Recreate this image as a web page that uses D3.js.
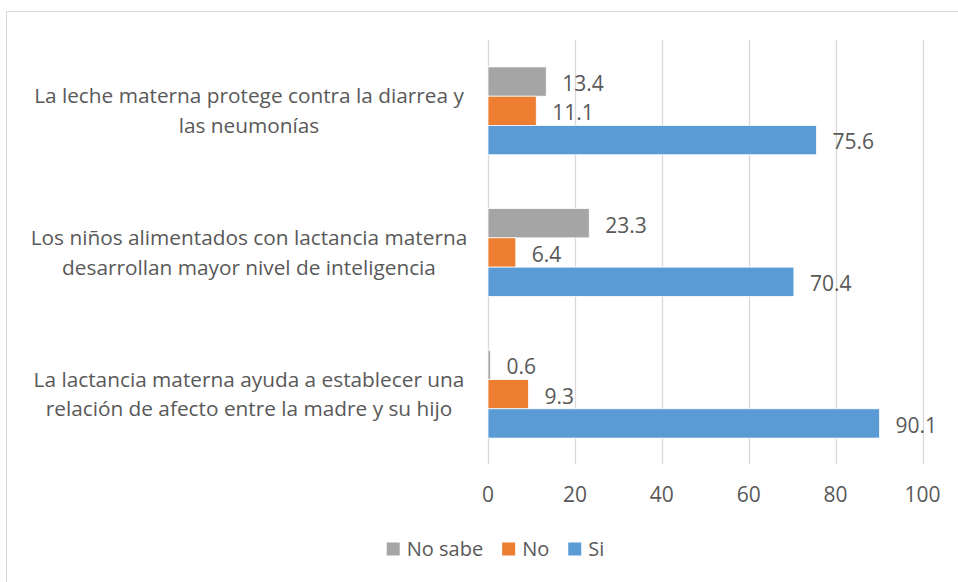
<!DOCTYPE html>
<html>
<head>
<meta charset="utf-8">
<script src="https://cdnjs.cloudflare.com/ajax/libs/d3/7.8.5/d3.min.js"></script>
<style>
  body { margin: 0; background: #fff; }
  text { font-family: "Open Sans", sans-serif; fill: #595959; }
</style>
</head>
<body>
<div id="chart"></div>
<script>
(function() {
  var width = 958, height = 582;

  var categories = [
    ["La leche materna protege contra la diarrea y", "las neumonías"],
    ["Los niños alimentados con lactancia materna", "desarrollan mayor nivel de inteligencia"],
    ["La lactancia materna ayuda a establecer una", "relación de afecto entre la madre y su hijo"]
  ];
  var series = ["No sabe", "No", "Si"];
  var noSabe = [13.4, 23.3, 0.6];
  var no = [11.1, 6.4, 9.3];
  var si = [75.6, 70.4, 90.1];
  var ticks = [0, 20, 40, 60, 80, 100];

  var values = [noSabe, no, si];
  var colours = d3.scaleOrdinal().domain(series).range(["#A5A5A5", "#ED7D31", "#5B9BD5"]);

  var svg = d3.select("#chart")
    .append("svg")
    .attr("width", width)
    .attr("height", height);

  // chart border
  svg.append("rect")
    .attr("x", 6.5).attr("y", 11.5)
    .attr("width", 980).attr("height", 600)
    .attr("fill", "none")
    .attr("stroke", "#D9D9D9");

  var xScale = d3.scaleLinear().domain([0, 100]).range([488, 922.5]);
  var yScale = d3.scaleBand().domain(d3.range(categories.length)).range([40, 465])
    .paddingInner(0.38).paddingOuter(0.19);
  var inner = d3.scaleBand().domain(series).range([0, yScale.bandwidth()]);

  // gridlines
  svg.selectAll(".grid")
    .data(ticks)
    .enter().append("line")
    .attr("x1", function(d) { return Math.round(xScale(d)) + 0.5; })
    .attr("x2", function(d) { return Math.round(xScale(d)) + 0.5; })
    .attr("y1", 40)
    .attr("y2", 464)
    .attr("stroke", "#D9D9D9")
    .attr("stroke-width", 1.3);

  // tick labels
  svg.selectAll(".tick-label")
    .data(ticks)
    .enter().append("text")
    .attr("x", function(d) { return xScale(d); })
    .attr("y", 495)
    .attr("dy", ".35em")
    .attr("text-anchor", "middle")
    .style("font-size", "21px")
    .text(function(d) { return d; });

  // bars
  var rows = [];
  categories.forEach(function(c, i) {
    series.forEach(function(s, j) {
      rows.push({ cat: i, series: s, value: values[j][i] });
    });
  });

  svg.selectAll(".bar")
    .data(rows)
    .enter().append("rect")
    .attr("x", xScale(0))
    .attr("y", function(d) { return yScale(d.cat) + inner(d.series); })
    .attr("width", function(d) { return xScale(d.value) - xScale(0); })
    .attr("height", inner.bandwidth())
    .attr("fill", function(d) { return colours(d.series); })
    .attr("stroke", "#fff")
    .attr("stroke-width", 0.75);

  // value labels
  svg.selectAll(".value")
    .data(rows)
    .enter().append("text")
    .attr("x", function(d) { return xScale(d.value) + 16; })
    .attr("y", function(d) { return yScale(d.cat) + inner(d.series) + inner.bandwidth() / 2 + 2; })
    .attr("dy", ".35em")
    .style("font-size", "21px")
    .text(function(d) { return d.value.toFixed(1); });

  // category labels
  categories.forEach(function(lines, i) {
    var t = svg.append("text")
      .attr("text-anchor", "middle")
      .style("font-size", "20.8px");
    var cy = yScale(i) + yScale.bandwidth() / 2;
    lines.forEach(function(l, k) {
      t.append("tspan")
        .attr("x", 249)
        .attr("y", cy + (k - (lines.length - 1) / 2) * 29.5)
        .attr("dy", ".35em")
        .text(l);
    });
  });

  // legend
  var legend = svg.append("g");
  var lx = 0;
  series.forEach(function(s) {
    var g = legend.append("g").attr("transform", "translate(" + lx + ",0)");
    g.append("rect")
      .attr("x", 0).attr("y", -6.5)
      .attr("width", 13).attr("height", 13)
      .attr("fill", colours(s));
    var txt = g.append("text")
      .attr("x", 20)
      .attr("y", 0)
      .attr("dy", ".35em")
      .style("font-size", "20px")
      .text(s);
    lx += 20 + txt.node().getComputedTextLength() + 19;
  });
  var lw = lx - 19;
  legend.attr("transform", "translate(" + (495.5 - lw / 2) + ",549)");
})();
</script>
</body>
</html>
